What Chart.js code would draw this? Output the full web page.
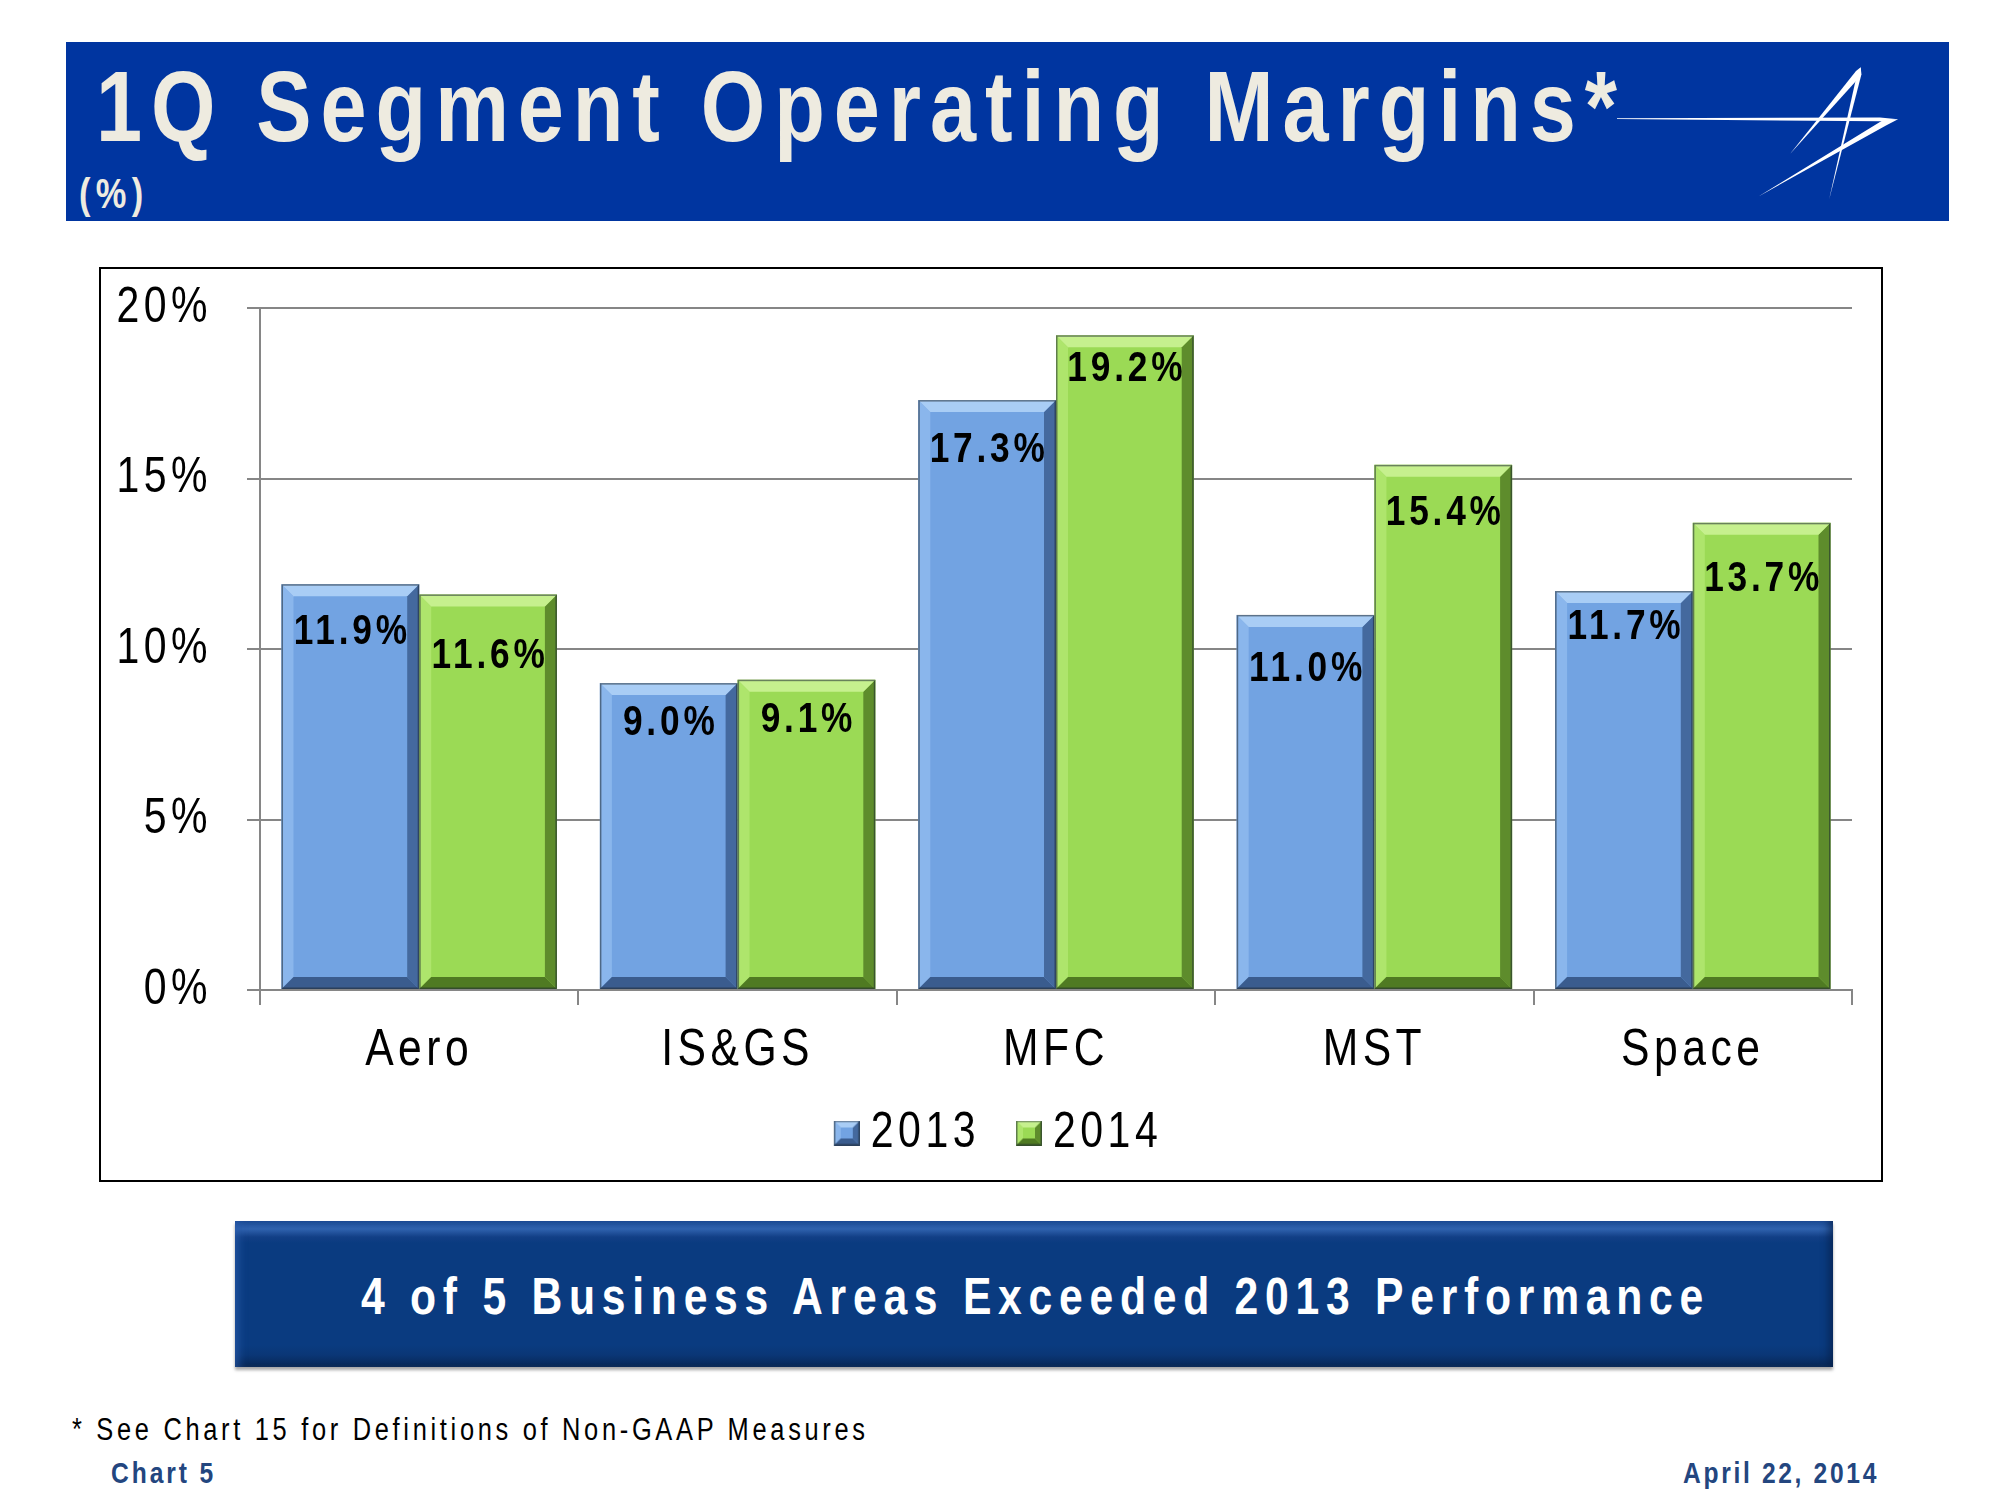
<!DOCTYPE html>
<html><head><meta charset="utf-8">
<script src="https://cdn.jsdelivr.net/npm/chart.js@4/dist/chart.umd.min.js"></script>
<style>
html,body{margin:0;padding:0;background:#fff;}
body{width:2000px;height:1500px;position:relative;overflow:hidden;font-family:"Liberation Sans",Arial,sans-serif;}
.abs{position:absolute;white-space:nowrap;line-height:1;}
.abs span{display:inline-block;transform:scaleX(0.82);transform-origin:0 0;}
#header{position:absolute;left:66px;top:42px;width:1883px;height:179px;background:#0035A0;}
#title{left:96px;top:56px;font-size:101px;font-weight:bold;color:#EEEBE0;}
#unit{left:79px;top:173px;font-size:42px;font-weight:bold;color:#EEEBE0;}
#logo{position:absolute;left:0;top:0;}
#box{position:absolute;left:99px;top:267px;width:1780px;height:911px;border:2px solid #000;}
#chartwrap{position:absolute;left:0;top:0;width:1780px;height:911px;}
#banner{position:absolute;left:235px;top:1221px;width:1598px;height:146px;
  background:linear-gradient(to bottom,#1C4C96 0px,#2F62AE 8px,#123F86 16px,#0A3B80 22px,#0A3B80 calc(100% - 22px),#0A3676 calc(100% - 12px),#082C60 calc(100% - 4px),#0D2A55 100%);
  box-shadow: inset 10px 0 8px -6px rgba(40,90,170,0.7), inset -10px 0 8px -6px rgba(5,30,70,0.7), 0 3px 3px rgba(0,0,0,0.35);}
#bannertext{left:0;top:0;font-size:52px;font-weight:bold;color:#fff;}
#foot{left:72px;top:1414px;font-size:31px;color:#000;}
#chartno{left:111px;top:1458px;font-size:30px;font-weight:bold;color:#23467F;}
#date{left:1683px;top:1458px;font-size:30px;font-weight:bold;color:#23467F;}
</style></head>
<body>
<div id="header"></div>
<svg id="logo" width="2000" height="260" viewBox="0 0 2000 260">
  <polygon fill="#fff" points="1617,118.2 1880,117.6 1898,119.3 1880,121.3 1617,119.0"/>
  <polygon fill="#fff" points="1898,119.3 1884,119.6 1758,196.7 1886,125.5"/>
  <polygon fill="#fff" points="1860.7,67.3 1856,71 1790,154 1861.5,75"/>
  <polygon fill="#fff" points="1860.7,67.3 1857,74 1829,200 1861,76"/>
</svg>
<div id="title" class="abs"><span>1Q Segment Operating Margins*</span></div>
<div id="unit" class="abs"><span>(%)</span></div>
<div id="box"><div id="chartwrap"><canvas id="c"></canvas></div></div>
<div id="banner"></div>
<div id="bannertext" class="abs"><span>4 of 5 Business Areas Exceeded 2013 Performance</span></div>
<div id="foot" class="abs"><span>* See Chart 15 for Definitions of Non-GAAP Measures</span></div>
<div id="chartno" class="abs"><span>Chart 5</span></div>
<div id="date" class="abs"><span>April 22, 2014</span></div>
<script>
// ---- data ----
const categories = ['Aero', 'IS&GS', 'MFC', 'MST', 'Space'];
const seriesNames = ['2013', '2014'];
const values2013 = [11.9, 9.0, 17.3, 11.0, 11.7];
const values2014 = [11.6, 9.1, 19.2, 15.4, 13.7];
const yTickValues = [0, 5, 10, 15, 20];
const yTickSuffix = '%';

// ---- styles ----
const FONT = '"Liberation Sans",Arial,sans-serif';
const SX = 0.82; // narrow-font emulation
const faceColors = ['#72A3E2', '#9BDA55'];
const bevelColors = [
  {top:'#A9CDF5', left:'#8AB6EC', right:'#44699E', bottom:'#3A5C8E'},
  {top:'#C6F08E', left:'#AEE56C', right:'#5E8C2C', bottom:'#4F7A22'}
];
const labelOffsets = [[48, 40, 50, 54, 36], [62, 40, 34, 48, 56]];

function fitSpacing(id, target) {
  const sp = document.querySelector('#' + id + ' span');
  sp.style.letterSpacing = '0px';
  const w = sp.offsetWidth;
  const n = sp.textContent.length;
  const s = (target / SX - w) / (n - 1);
  sp.style.letterSpacing = s + 'px';
  return s;
}
fitSpacing('title', 1521);
fitSpacing('unit', 64);
fitSpacing('bannertext', 1342);
fitSpacing('foot', 793);
fitSpacing('chartno', 102);
fitSpacing('date', 193);
(function(){
  const el = document.getElementById('bannertext');
  el.style.left = (1032 - 1342/2) + 'px';
  el.style.top = (1314 - 0.8465*52) + 'px';
})();

// ---- narrow text on the chart canvas ----
const cv = document.getElementById('c');
const cx = cv.getContext('2d');
const origFill = cx.fillText.bind(cx);
const origMeasure = cx.measureText.bind(cx);
cx.fillText = function(t, x, y) {
  this.save(); this.translate(x, y); this.scale(SX, 1); origFill(t, 0, 0); this.restore();
};
cx.measureText = function(t) {
  const m = origMeasure(t);
  return {width: m.width * SX, actualBoundingBoxAscent: m.actualBoundingBoxAscent,
    actualBoundingBoxDescent: m.actualBoundingBoxDescent,
    actualBoundingBoxLeft: m.actualBoundingBoxLeft * SX, actualBoundingBoxRight: m.actualBoundingBoxRight * SX};
};

const SPACING = '5.5px';
const spacingPlugin = {
  id: 'spacing',
  beforeUpdate(chart){ chart.ctx.letterSpacing = SPACING; },
  beforeLayout(chart){ chart.ctx.letterSpacing = SPACING; },
  afterLayout(chart){ chart.scales.y.left = 0; }, // let y tick labels use the space left of the axis
  beforeDraw(chart){ chart.ctx.letterSpacing = SPACING; }
};

function bevelRect(ctx, l, t, r, b, k, face, bc) {
  const poly = (pts, col) => { ctx.beginPath(); ctx.moveTo(pts[0][0], pts[0][1]); for (let j=1;j<pts.length;j++) ctx.lineTo(pts[j][0], pts[j][1]); ctx.closePath(); ctx.fillStyle = col; ctx.fill(); };
  if (face) { ctx.fillStyle = face; ctx.fillRect(l, t, r-l, b-t); }
  poly([[l,t],[l+k,t+k],[l+k,b-k],[l,b]], bc.left);
  poly([[r,t],[r,b],[r-k,b-k],[r-k,t+k]], bc.right);
  poly([[l,b],[r,b],[r-k,b-k],[l+k,b-k]], bc.bottom);
  poly([[l,t],[r,t],[r-k,t+k],[l+k,t+k]], bc.top);
  ctx.strokeStyle = 'rgba(30,40,50,0.55)';
  ctx.lineWidth = 1.5;
  ctx.strokeRect(l+0.75, t+0.75, r-l-1.5, b-t-1.5);
}

// legend markers: square drawn toward the right of a wider transparent image,
// so the visible gap between marker and text is narrow as in the reference
const legendImages = faceColors.map((c, d) => {
  const im = document.createElement('canvas');
  im.width = 54; im.height = 25;
  bevelRect(im.getContext('2d'), 28, 0, 54, 25, 7, c, bevelColors[d]);
  return im;
});

const bevelPlugin = {
  id: 'bevel',
  afterDatasetsDraw(chart) {
    const ctx = chart.ctx;
    chart.data.datasets.forEach((ds, d) => {
      const meta = chart.getDatasetMeta(d);
      meta.data.forEach((el, i) => {
        const p = el.getProps(['x','y','base','width'], true);
        const l = p.x - p.width/2, r = p.x + p.width/2;
        ctx.save();
        bevelRect(ctx, l, p.y, r, p.base, 12, null, bevelColors[d]);
        ctx.letterSpacing = (3.8 / SX) + 'px';
        ctx.font = 'bold 43px ' + FONT;
        ctx.fillStyle = '#000';
        ctx.textAlign = 'center';
        ctx.textBaseline = 'middle';
        ctx.fillText(ds.data[i].toFixed(1) + '%', p.x + 2, p.y + labelOffsets[d][i]);
        ctx.restore();
      });
    });
  }
};

new Chart(cv, {
  type: 'bar',
  data: {
    labels: categories,
    datasets: [
      {label: seriesNames[0], data: values2013, backgroundColor: faceColors[0], borderWidth: 0},
      {label: seriesNames[1], data: values2014, backgroundColor: faceColors[1], borderWidth: 0}
    ]
  },
  plugins: [spacingPlugin, bevelPlugin],
  options: {
    responsive: true,
    maintainAspectRatio: false,
    animation: false,
    datasets: {bar: {categoryPercentage: 0.865, barPercentage: 1.0}},
    layout: {padding: {top: 39, right: 29, left: 29, bottom: 12}},
    plugins: {
      legend: {
        position: 'bottom',
        labels: {
          font: {family: FONT, size: 50}, color: '#000', boxWidth: 26, boxHeight: 25, padding: 22,
          usePointStyle: true,
          generateLabels(chart) {
            const items = Chart.defaults.plugins.legend.labels.generateLabels(chart);
            items.forEach((it, i) => { it.pointStyle = legendImages[i]; });
            return items;
          }
        }
      },
      tooltip: {enabled: false}
    },
    scales: {
      x: {
        grid: {drawOnChartArea: false, drawTicks: true, tickLength: 15, color: '#868686', lineWidth: 2},
        border: {display: true, color: '#868686', width: 2},
        ticks: {font: {family: FONT, size: 52}, color: '#000', padding: 14},
        afterFit(s){ s.height = 96; }
      },
      y: {
        min: 0, max: 20,
        afterBuildTicks(s){ s.ticks = yTickValues.map(v => ({value: v})); },
        grid: {color: '#868686', lineWidth: 2, tickLength: 13, drawTicks: true},
        border: {display: true, color: '#868686', width: 2},
        ticks: {font: {family: FONT, size: 50}, color: '#000', padding: 35, callback: v => v + yTickSuffix},
        afterFit(s){ s.width = 130; s.paddingTop = 25; s.paddingBottom = 25; }
      }
    }
  }
});
</script>
</body></html>
